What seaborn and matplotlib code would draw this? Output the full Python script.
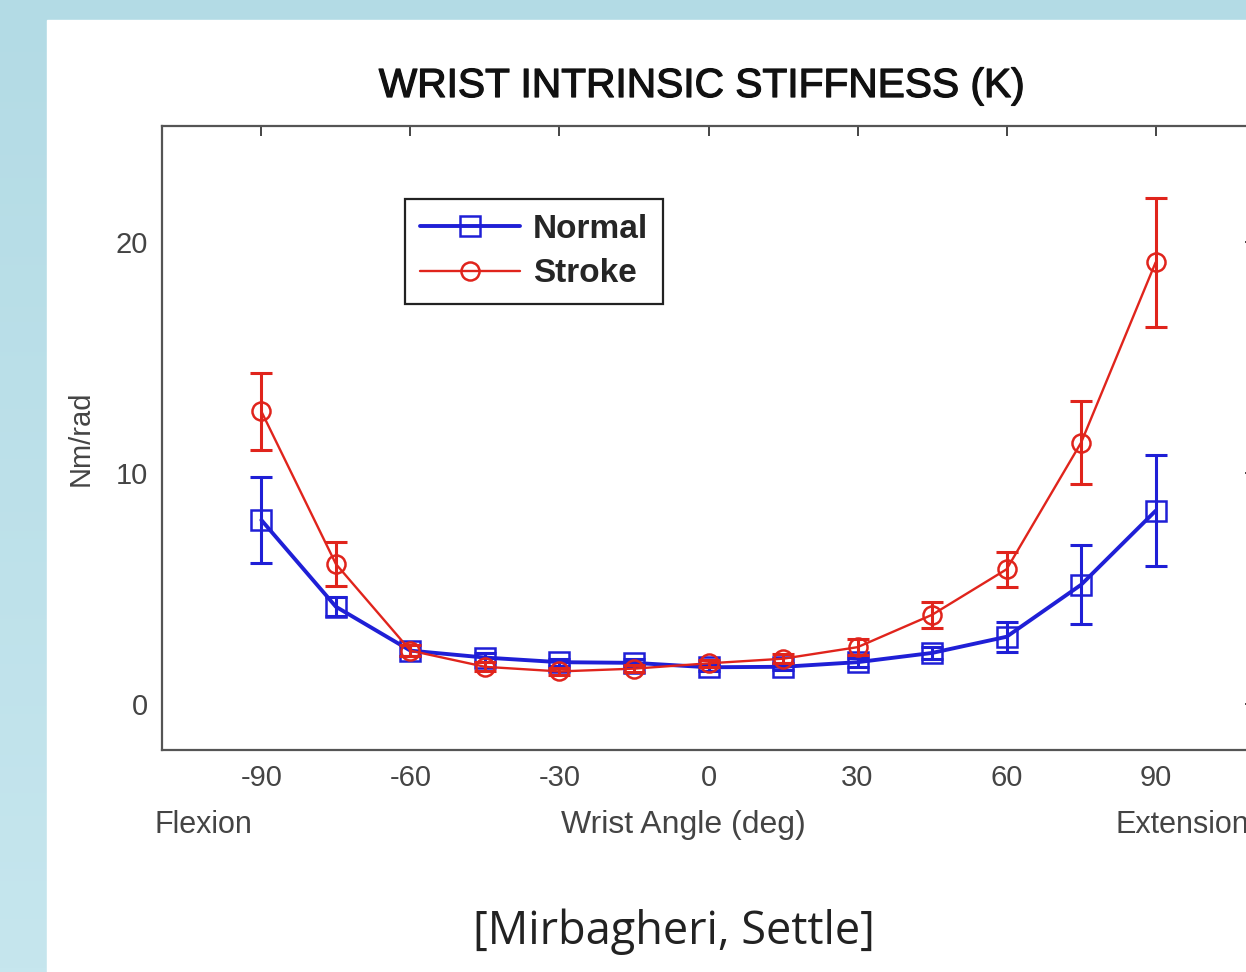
import numpy as np
import pandas as pd
import matplotlib
matplotlib.use("Agg")
import matplotlib.pyplot as plt
import matplotlib.patheffects as pe
import seaborn as sns
from matplotlib.patches import Rectangle

# data
angles = [-90, -75, -60, -45, -30, -15, 0, 15, 30, 45, 60, 75, 90]
normal = [7.95, 4.2, 2.3, 2.0, 1.8, 1.77, 1.58, 1.6, 1.8, 2.2, 2.9, 5.15, 8.35]
normal_err = [1.87, 0.4, 0.25, 0.2, 0.15, 0.15, 0.15, 0.15, 0.2, 0.25, 0.65, 1.7, 2.4]
stroke = [12.65, 6.05, 2.3, 1.6, 1.4, 1.52, 1.75, 1.95, 2.45, 3.85, 5.82, 11.3, 19.1]
stroke_err = [1.67, 0.95, 0.25, 0.2, 0.15, 0.15, 0.15, 0.2, 0.35, 0.55, 0.75, 1.8, 2.8]
xticks = [-90, -60, -30, 0, 30, 60, 90]
yticks = [0, 10, 20]

sns.set_style("white")
plt.rcParams['font.family'] = ['Liberation Sans', 'DejaVu Sans']

fig = plt.figure(figsize=(12.46, 9.72), dpi=100)

# light blue slide background with a soft vertical gradient, white panel on top
bg = fig.add_axes([0, 0, 1, 1], zorder=-10)
grad = np.linspace(0, 1, 256).reshape(-1, 1)
top_c = np.array([0xb3, 0xdb, 0xe5]) / 255
bot_c = np.array([0xc6, 0xe6, 0xee]) / 255
img = top_c[None, None, :] * (1 - grad[:, :, None]) + bot_c[None, None, :] * grad[:, :, None]
bg.imshow(img, aspect='auto', extent=[0, 1, 0, 1])
bg.add_patch(Rectangle((47 / 1246, 0), 1, 1 - 20 / 972, color='white'))
bg.set_xlim(0, 1)
bg.set_ylim(0, 1)
bg.axis('off')

ax = fig.add_axes([162 / 1246, 1 - 750 / 972, 1093 / 1246, 624 / 972])
ax.set_facecolor('white')

series = [
    ('Normal', normal, normal_err, '#1f1fd6', 's', 2.8, 14),
    ('Stroke', stroke, stroke_err, '#e0241c', 'o', 1.7, 13),
]
for name, vals, err, col, mk, lw, ms in series:
    df = pd.DataFrame({'angle': angles, 'K': vals})
    sns.lineplot(data=df, x='angle', y='K', ax=ax, color=col, marker=mk,
                 markersize=ms, markerfacecolor='none', markeredgecolor=col,
                 markeredgewidth=1.8, linewidth=lw, label=name)
    ax.errorbar(angles, vals, yerr=err, fmt='none', ecolor=col,
                elinewidth=2.2, capsize=8, capthick=2.2)

ax.set_xlim(-110, 110)
ax.set_ylim(-2, 25)
ax.set_xticks(xticks)
ax.set_yticks(yticks)
ax.set_xticklabels([str(t) for t in xticks])
ax.set_yticklabels([str(t) for t in yticks])
ax.tick_params(direction='in', length=7, width=1.4, top=True, right=True,
               labelsize=21, labelcolor='#444444', color='#444444', pad=10)
for sp in ax.spines.values():
    sp.set_color('#555555')
    sp.set_linewidth(1.6)
ax.set_xlabel('')
ax.set_ylabel('Nm/rad', fontsize=21, color='#444444', labelpad=15)

# text under the x axis
trans = ax.get_xaxis_transform()
ax.text(-101.7, -0.12, 'Flexion', transform=trans, ha='center', va='center',
        fontsize=22, color='#444444')
ax.text(-5, -0.12, 'Wrist Angle (deg)', transform=trans, ha='center', va='center',
        fontsize=23, color='#444444')
ax.text(95.3, -0.12, 'Extension', transform=trans, ha='center', va='center',
        fontsize=22, color='#444444', clip_on=False)

leg = ax.legend(loc='upper left', bbox_to_anchor=(0.222, 0.883), fancybox=False,
                edgecolor='#222222', framealpha=1, handlelength=3.0,
                prop={'size': 24, 'weight': 'bold'},
                borderpad=0.45, borderaxespad=0, labelspacing=0.4,
                handletextpad=0.4)
leg.get_frame().set_linewidth(1.6)

fig.text(702 / 1246, 1 - 86 / 972, 'WRIST INTRINSIC STIFFNESS (K)', ha='center',
         va='center', fontsize=29.3, color='#111111',
         path_effects=[pe.withStroke(linewidth=0.9, foreground='#111111')])
fig.text(674 / 1246, 1 - 932 / 972, '[Mirbagheri, Settle]', ha='center', va='center',
         fontsize=32.5, color='#222222', family=['Open Sans', 'DejaVu Sans'])

fig.savefig('out.png', dpi=100)
